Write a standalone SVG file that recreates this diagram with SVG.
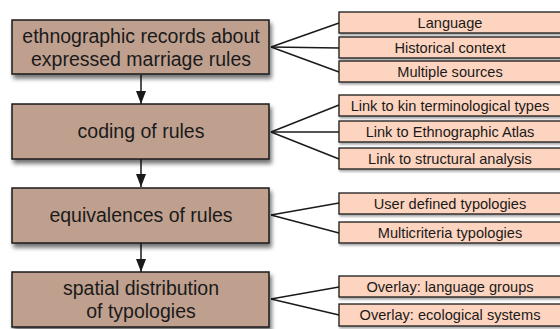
<svg xmlns="http://www.w3.org/2000/svg" width="560" height="329" viewBox="0 0 560 329">
<style>
.main rect{fill:#bfa08f;stroke:#1a1a1a;stroke-width:1.5}
.sub rect{fill:#fdd4bf;stroke:#1a1a1a;stroke-width:1.3}
.main text{font-family:"Liberation Sans",Arial,sans-serif;font-size:19.5px;fill:#1a1a1a;text-anchor:middle}
.sub text{font-family:"Liberation Sans",Arial,sans-serif;font-size:14.6px;fill:#1a1a1a;text-anchor:middle}
.conn line{stroke:#1a1a1a;stroke-width:1.5}
</style>
<defs>
<filter id="sh" x="-10%" y="-20%" width="130%" height="160%">
<feDropShadow dx="2" dy="4" stdDeviation="2" flood-color="#000" flood-opacity="0.55"/>
</filter>
<filter id="sh2" x="-10%" y="-30%" width="130%" height="180%">
<feDropShadow dx="1" dy="2" stdDeviation="1" flood-color="#000" flood-opacity="0.35"/>
</filter>
<marker id="ar" viewBox="0 0 10 13" refX="5" refY="13" markerWidth="10" markerHeight="13" markerUnits="userSpaceOnUse" orient="0">
<path d="M0,0 L10,0 L5,13 z" fill="#1a1a1a"/>
</marker>
</defs>
<g class="conn">
<line x1="141" y1="75" x2="141" y2="104" marker-end="url(#ar)"/>
<line x1="141" y1="159" x2="141" y2="187" marker-end="url(#ar)"/>
<line x1="141" y1="243" x2="141" y2="272" marker-end="url(#ar)"/>
<line x1="271" y1="47" x2="339" y2="23"/>
<line x1="271" y1="47" x2="339" y2="48"/>
<line x1="271" y1="47" x2="339" y2="72"/>
<line x1="271" y1="132" x2="339" y2="105"/>
<line x1="271" y1="132" x2="339" y2="132"/>
<line x1="271" y1="132" x2="339" y2="159"/>
<line x1="271" y1="215" x2="339" y2="203"/>
<line x1="271" y1="215" x2="339" y2="233"/>
<line x1="271" y1="299" x2="339" y2="287"/>
<line x1="271" y1="299" x2="339" y2="315"/>
</g>
<g id="n1" class="main"><rect x="12" y="20" width="257" height="54" filter="url(#sh)"/><text x="141" y="43">ethnographic records about</text><text x="141" y="66">expressed marriage rules</text></g>
<g id="n2" class="main"><rect x="12" y="104" width="257" height="55" filter="url(#sh)"/><text x="141" y="138">coding of rules</text></g>
<g id="n3" class="main"><rect x="12" y="188" width="257" height="55" filter="url(#sh)"/><text x="141" y="222">equivalences of rules</text></g>
<g id="n4" class="main"><rect x="12" y="272" width="257" height="55" filter="url(#sh)"/><text x="141" y="295">spatial distribution</text><text x="141" y="318">of typologies</text></g>
<g id="s1" class="sub"><rect x="339" y="12" width="225" height="21" filter="url(#sh2)"/><text x="450" y="28">Language</text></g>
<g id="s2" class="sub"><rect x="339" y="37" width="225" height="21" filter="url(#sh2)"/><text x="450" y="53">Historical context</text></g>
<g id="s3" class="sub"><rect x="339" y="61" width="225" height="21" filter="url(#sh2)"/><text x="450" y="77">Multiple sources</text></g>
<g id="s4" class="sub"><rect x="339" y="95" width="225" height="21" filter="url(#sh2)"/><text x="450" y="111">Link to kin terminological types</text></g>
<g id="s5" class="sub"><rect x="339" y="121" width="225" height="21" filter="url(#sh2)"/><text x="450" y="137">Link to Ethnographic Atlas</text></g>
<g id="s6" class="sub"><rect x="339" y="148" width="225" height="21" filter="url(#sh2)"/><text x="450" y="164">Link to structural analysis</text></g>
<g id="s7" class="sub"><rect x="339" y="193" width="225" height="21" filter="url(#sh2)"/><text x="450" y="209">User defined typologies</text></g>
<g id="s8" class="sub"><rect x="339" y="222" width="225" height="21" filter="url(#sh2)"/><text x="450" y="238">Multicriteria typologies</text></g>
<g id="s9" class="sub"><rect x="339" y="276" width="225" height="21" filter="url(#sh2)"/><text x="450" y="292">Overlay: language groups</text></g>
<g id="s10" class="sub"><rect x="339" y="304" width="225" height="22" filter="url(#sh2)"/><text x="450" y="320">Overlay: ecological systems</text></g>
</svg>
